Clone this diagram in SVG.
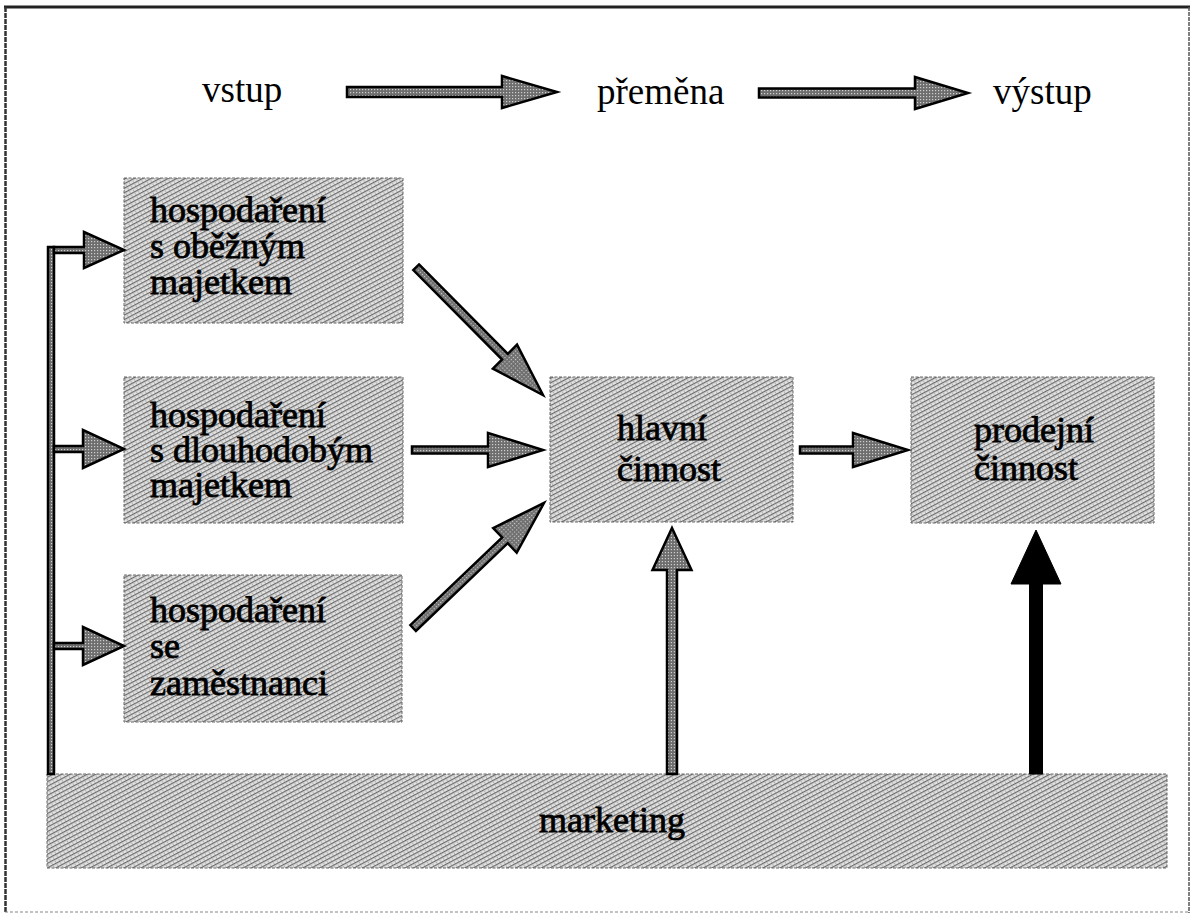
<svg xmlns="http://www.w3.org/2000/svg" width="1194" height="923" viewBox="0 0 1194 923">
  <defs>
    <pattern id="stip" width="4" height="4" patternUnits="userSpaceOnUse" patternTransform="rotate(-28)">
      <rect width="4" height="4" fill="#e2e2e2"/>
      <rect width="4" height="1.2" fill="#6a6a6a"/>
      <rect x="0" y="2.4" width="1" height="1" fill="#8a8a8a"/>
    </pattern>
    <pattern id="dark" width="3" height="3" patternUnits="userSpaceOnUse">
      <rect width="3" height="3" fill="#6e6e6e"/>
      <rect width="1.2" height="1.2" fill="#cfcfcf"/>
    </pattern>
    <style>
      .box { fill: url(#stip); stroke: #666; stroke-width: 1; stroke-dasharray: 3 1.5; }
      .txt { font-family: "Liberation Serif", "Times New Roman", serif; font-size: 36px; fill: #000; stroke: #000; stroke-width: 0.8; }
      .top { font-family: "Liberation Serif", "Times New Roman", serif; font-size: 37px; fill: #000; }
      .arr { fill: url(#dark); stroke: #000; stroke-width: 2.5; stroke-linejoin: miter; }
      .blk { fill: #000; stroke: #000; stroke-width: 1; }
    </style>
  </defs>

  <rect x="0" y="0" width="1194" height="923" fill="#fff"/>
  <!-- frame -->
  <g id="frame" fill="none">
    <line x1="4" y1="7" x2="1190" y2="7" stroke="#222" stroke-width="3"/>
    <line x1="5.5" y1="7" x2="5.5" y2="913" stroke="#333" stroke-width="2.5" stroke-dasharray="5 1"/>
    <line x1="1189" y1="7" x2="1189" y2="913" stroke="#555" stroke-width="1.5" stroke-dasharray="4 1"/>
    <line x1="5" y1="912" x2="1190" y2="912" stroke="#888" stroke-width="1.2" stroke-dasharray="3 2"/>
  </g>

  <!-- header labels -->
  <g id="header">
    <text class="top" x="202" y="102">vstup</text>
    <text class="top" x="597" y="104">přeměna</text>
    <text class="top" x="993" y="104">výstup</text>
  </g>

  <!-- nodes -->
  <g id="node-obezny">
    <rect class="box" x="124" y="178" width="279" height="145"/>
    <text class="txt" x="150" y="222">hospodaření</text>
    <text class="txt" x="150" y="258">s oběžným</text>
    <text class="txt" x="150" y="294">majetkem</text>
  </g>
  <g id="node-dlouhodoby">
    <rect class="box" x="124" y="377" width="279" height="146"/>
    <text class="txt" x="150" y="427">hospodaření</text>
    <text class="txt" x="150" y="462">s dlouhodobým</text>
    <text class="txt" x="150" y="497">majetkem</text>
  </g>
  <g id="node-zamestnanci">
    <rect class="box" x="124" y="575" width="278" height="147"/>
    <text class="txt" x="150" y="622">hospodaření</text>
    <text class="txt" x="150" y="658">se</text>
    <text class="txt" x="150" y="695">zaměstnanci</text>
  </g>
  <g id="node-hlavni">
    <rect class="box" x="550" y="377" width="243" height="145"/>
    <text class="txt" x="617" y="440">hlavní</text>
    <text class="txt" x="617" y="481">činnost</text>
  </g>
  <g id="node-prodejni">
    <rect class="box" x="911" y="377" width="243" height="146"/>
    <text class="txt" x="974" y="442">prodejní</text>
    <text class="txt" x="974" y="480">činnost</text>
  </g>
  <g id="node-marketing">
    <rect class="box" x="47" y="774" width="1120" height="94"/>
    <text class="txt" x="539" y="832">marketing</text>
  </g>

  <!-- connectors -->
  <g id="connectors">
    <!-- top flow arrows -->
    <polygon class="arr" stroke-width="3" transform="translate(557,92)" points="-210,-5 -55,-5 -55,-16 0,0 -55,16 -55,5 -210,5"/>
    <polygon class="arr" stroke-width="3" transform="translate(968,93)" points="-209,-4.5 -53,-4.5 -53,-16 0,0 -53,16 -53,4.5 -209,4.5"/>

    <!-- feedback line from marketing -->
    <rect class="arr" x="48" y="247" width="6" height="527" stroke-width="2"/>
    <polygon class="arr" transform="translate(124,250)" points="-70,-3 -40,-3 -40,-18 0,0 -40,18 -40,3 -70,3"/>
    <polygon class="arr" transform="translate(124,449)" points="-70,-3 -41,-3 -41,-19 0,0 -41,19 -41,3 -70,3"/>
    <polygon class="arr" transform="translate(124,646)" points="-70,-3 -41,-3 -41,-19 0,0 -41,19 -41,3 -70,3"/>

    <!-- into hlavni -->
    <polygon class="arr" transform="translate(543,395) rotate(45.2)" points="-180,-4 -54,-4 -54,-17 0,0 -54,17 -54,4 -180,4"/>
    <polygon class="arr" transform="translate(543,450)" points="-131,-3.5 -55,-3.5 -55,-17 0,0 -55,17 -55,3.5 -131,3.5"/>
    <polygon class="arr" transform="translate(544,503) rotate(-43.7)" points="-181,-4 -54,-4 -54,-17 0,0 -54,17 -54,4 -181,4"/>

    <!-- hlavni -> prodejni -->
    <polygon class="arr" transform="translate(908,450)" points="-108,-3.5 -55,-3.5 -55,-17 0,0 -55,17 -55,3.5 -108,3.5"/>

    <!-- marketing -> hlavni -->
    <polygon class="arr" transform="translate(672,528) rotate(90)" points="0,0 42,-19.5 42,-5 246,-5 246,5 42,5 42,19.5"/>
    <!-- marketing -> prodejni (black) -->
    <polygon class="blk" transform="translate(1036,530) rotate(90)" points="0,0 54,-25 54,-6.5 244,-6.5 244,6.5 54,6.5 54,25"/>
  </g>
</svg>
